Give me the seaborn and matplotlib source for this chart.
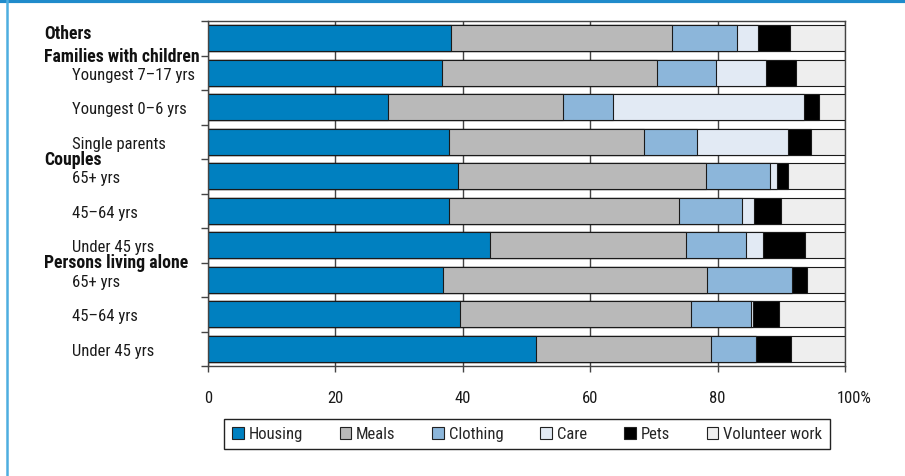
import pandas as pd
import seaborn as sns
import matplotlib.pyplot as plt
from matplotlib import font_manager
from matplotlib.lines import Line2D
from matplotlib.transforms import blended_transform_factory, ScaledTranslation

# =============================================================================
# 数据（从图上读取的百分比）
# =============================================================================
row_keys = ["o", "f1", "f2", "f3", "c1", "c2", "c3", "a1", "a2", "a3"]
row_labels = ["Others", "Youngest 7–17 yrs", "Youngest 0–6 yrs", "Single parents",
              "65+ yrs", "45–64 yrs", "Under 45 yrs",
              "65+ yrs", "45–64 yrs", "Under 45 yrs"]
group_labels = ["Families with children", "Couples", "Persons living alone"]
group_first_row = [1, 4, 7]

categories = ["Housing", "Meals", "Clothing", "Care", "Pets", "Volunteer work"]
housing = [38.2, 36.7, 28.3, 37.9, 39.3, 37.9, 44.3, 36.9, 39.5, 51.5]
meals = [34.7, 33.8, 27.5, 30.5, 38.9, 36.0, 30.8, 41.5, 36.3, 27.4]
clothing = [10.2, 9.3, 7.8, 8.4, 10.0, 10.0, 9.4, 13.3, 9.5, 7.1]
care = [3.3, 7.8, 30.0, 14.2, 1.1, 1.8, 2.7, 0.0, 0.3, 0.0]
pets = [5.0, 4.7, 2.3, 3.7, 1.8, 4.2, 6.5, 2.3, 4.1, 5.6]
volunteer = [8.6, 7.7, 4.1, 5.3, 8.9, 10.1, 6.3, 6.0, 10.3, 8.4]

x_ticks = [0, 20, 40, 60, 80, 100]
x_tick_labels = ["0", "20", "40", "60", "80", "100%"]

colors = ["#0080c0", "#b9b9b9", "#8cb6da", "#e2eaf4", "#000000", "#eeeeee"]

# =============================================================================
# 字体：优先用窄体
# =============================================================================
sns.set_style("white")
avail = {f.name for f in font_manager.fontManager.ttflist}
FONT = "Roboto"
for cand in ["Roboto Condensed", "Open Sans Condensed", "Liberation Sans Narrow", "Roboto"]:
    if cand in avail:
        FONT = cand
        break
plt.rcParams["font.family"] = [FONT, "DejaVu Sans"]
FS = 12
FS_B = 12.8

df = pd.DataFrame({"row": row_keys})
for name, vals in zip(categories, [housing, meals, clothing, care, pets, volunteer]):
    df[name] = vals
# 累积值：从右往左画，后画的覆盖前面的
cum = df[categories].cumsum(axis=1)
for c in categories:
    df["cum_" + c] = cum[c]

fig = plt.figure(figsize=(9.05, 4.77), dpi=100)
ax = fig.add_axes([208 / 905, 1 - 367 / 477, 637 / 905, 345 / 477])

for c, col in reversed(list(zip(categories, colors))):
    sns.barplot(data=df, x="cum_" + c, y="row", order=row_keys, orient="h",
                color=col, saturation=1, width=0.76, edgecolor="#1a1a1a",
                linewidth=0.8, errorbar=None, label=c, ax=ax)

ax.set_xlim(0, 100)
ax.set_ylim(len(row_keys) - 0.5, -0.5)
ax.set_xlabel("")
ax.set_ylabel("")

# 网格与坐标轴
ax.set_axisbelow(True)
ax.xaxis.grid(True, color="#444444", linewidth=1)
ax.yaxis.grid(False)
for sp in ax.spines.values():
    sp.set_color("#444444")
    sp.set_linewidth(1)

ax.set_xticks(x_ticks)
ax.set_xticklabels(x_tick_labels, fontsize=FS, color="#1a1a1a")
ax.tick_params(axis="x", direction="out", length=4, width=1, color="#444444", pad=13, bottom=True)
lab = ax.get_xticklabels()[-1]
lab.set_transform(lab.get_transform() + ScaledTranslation(9 / 100, 0, fig.dpi_scale_trans))

ax.set_yticks([i - 0.5 for i in range(len(row_keys) + 1)])
ax.set_yticklabels([])
ax.tick_params(axis="y", direction="out", length=5, width=1, color="#444444", left=True)

# 行标签（组标题加粗）
tr = blended_transform_factory(fig.transFigure, ax.transData)
ax.text(44 / 905, -0.16, row_labels[0], transform=tr, fontsize=FS_B, fontweight="bold",
        va="center", ha="left", color="#111111")
for i, lbl in enumerate(row_labels[1:], start=1):
    ax.text(72 / 905, i + 0.05, lbl, transform=tr, fontsize=FS, va="center", ha="left",
            color="#1a1a1a")
for g, r in zip(group_labels, group_first_row):
    ax.text(44 / 905, r - 0.5, g, transform=tr, fontsize=FS_B, fontweight="bold",
            va="center", ha="left", color="#111111")

# 图例
handles, labels = ax.get_legend_handles_labels()
order = [labels.index(c) for c in categories]
leg = ax.legend([handles[i] for i in order], [labels[i] for i in order],
                ncol=6, loc="center", bbox_to_anchor=(527 / 905, 1 - 435 / 477),
                bbox_transform=fig.transFigure, frameon=True, fancybox=False,
                framealpha=1, edgecolor="#222222", fontsize=FS,
                handlelength=0.7, handleheight=0.7, handletextpad=0.3,
                columnspacing=2.2, borderpad=0.45)
leg.get_frame().set_linewidth(1)
for h in leg.legend_handles:
    h.set_edgecolor("#222222")
    h.set_linewidth(0.8)

# 外框蓝线
fig.add_artist(Line2D([0, 1], [1 - 2 / 477, 1 - 2 / 477], transform=fig.transFigure,
                      color="#1f8bcb", linewidth=3))
fig.add_artist(Line2D([6.5 / 905, 6.5 / 905], [0, 1], transform=fig.transFigure,
                      color="#4eaee0", linewidth=1.8))

fig.savefig("out.png", dpi=100)
